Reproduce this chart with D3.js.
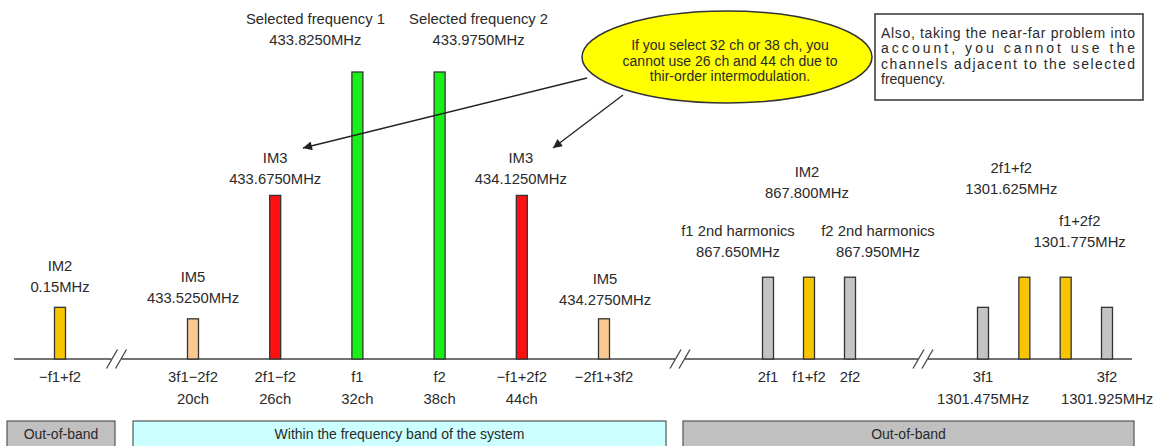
<!DOCTYPE html>
<html>
<head>
<meta charset="utf-8">
<script src="https://cdn.jsdelivr.net/npm/d3@7"></script>
<style>
  html, body { margin: 0; padding: 0; background: #fff; }
  svg { display: block; }
  text { font-family: "Liberation Sans", Arial, sans-serif; fill: #2a2a2a; }
</style>
</head>
<body>
<svg id="chart" width="1157" height="446"></svg>
<script>
// ---------------- DATA ----------------
const categories = ["−f1+f2", "3f1−2f2", "2f1−f2", "f1", "f2", "−f1+2f2", "−2f1+3f2",
                    "2f1", "f1+f2", "2f2", "3f1", "2f1+f2", "f1+2f2", "3f2"];
const groups     = [0, 1, 1, 1, 1, 1, 1, 2, 2, 2, 3, 3, 3, 3];
const levels     = [18, 14, 57, 100, 100, 57, 14, 28.5, 28.5, 28.5, 18, 28.5, 28.5, 18];
const kinds      = ["im2", "im5", "im3", "carrier", "carrier", "im3", "im5",
                    "harm", "im2", "harm", "harm", "im2", "im2", "harm"];
const topLine1   = ["IM2", "IM5", "IM3", "Selected frequency 1", "Selected frequency 2", "IM3", "IM5",
                    "f1 2nd harmonics", "IM2", "f2 2nd harmonics", "", "2f1+f2", "f1+2f2", ""];
const topLine2   = ["0.15MHz", "433.5250MHz", "433.6750MHz", "433.8250MHz", "433.9750MHz", "434.1250MHz", "434.2750MHz",
                    "867.650MHz", "867.800MHz", "867.950MHz", "", "1301.625MHz", "1301.775MHz", ""];
const bottomLine1 = ["−f1+f2", "3f1−2f2", "2f1−f2", "f1", "f2", "−f1+2f2", "−2f1+3f2",
                     "2f1", "f1+f2", "2f2", "3f1", "", "", "3f2"];
const bottomLine2 = ["", "20ch", "26ch", "32ch", "38ch", "44ch", "",
                     "", "", "", "1301.475MHz", "", "", "1301.925MHz"];
const bandLabels = ["Out-of-band", "Within the frequency band of the system", "Out-of-band"];
const calloutLines = ["If you select 32 ch or 38 ch, you",
                      "cannot use 26 ch and 44 ch due to",
                      "thir-order intermodulation."];
const noteLines = ["Also, taking the near-far problem into",
                   "account, you cannot use the",
                   "channels adjacent to the selected",
                   "frequency."];

// ---------------- LAYOUT / STYLE ----------------
const colors = { im2: "#f7c600", im5: "#fbc892", im3: "#ff1010", carrier: "#18f018", harm: "#c4c4c4" };
const groupRanges = [[60, 60], [193, 604], [768, 850], [983, 1107]];
const breaksX = [116.5, 680, 923];
const baseY = 359;
const barW = 11;
// label placement: [dx from bar centre, centre y of first line]
const labelPos = [[0, 266], [0, 277], [0, 158], [-42, 19], [39, 19], [-1, 158], [1, 279],
                  [-30, 231], [-2, 172], [28, 231], [0, 0], [-13, 168], [14, 221], [0, 0]];
const bands = [[7, 115, "#c0c0c0"], [133, 666, "#ccffff"], [683, 1134, "#c0c0c0"]];
const labelFont = "14.8px";

const svg = d3.select("#chart");

const data = categories.map((c, i) => ({
  cat: c, group: groups[i], level: levels[i], kind: kinds[i],
  t1: topLine1[i], t2: topLine2[i], b1: bottomLine1[i], b2: bottomLine2[i], i
}));

// x scales per segment
const xScales = groupRanges.map((r, g) =>
  d3.scalePoint().domain(data.filter(d => d.group === g).map(d => d.cat)).range(r).padding(0));
const x = d => xScales[d.group](d.cat);

const y = d3.scaleLinear().domain([0, 100]).range([baseY, 72]);

// bottom band boxes
svg.selectAll("rect.band").data(bands).join("rect")
  .attr("class", "band")
  .attr("x", d => d[0]).attr("y", 421)
  .attr("width", d => d[1] - d[0]).attr("height", 40)
  .attr("fill", d => d[2]).attr("stroke", "#555").attr("stroke-width", 1.2);
svg.selectAll("text.band").data(bands).join("text")
  .attr("class", "band")
  .attr("x", d => (d[0] + d[1]) / 2).attr("y", 434)
  .attr("text-anchor", "middle").attr("dominant-baseline", "central")
  .style("font-size", "14px")
  .text((d, i) => bandLabels[i]);

// baseline
svg.append("line").attr("x1", 14).attr("x2", 1132).attr("y1", baseY).attr("y2", baseY)
  .attr("stroke", "#444").attr("stroke-width", 1.5);

// break marks
breaksX.forEach(bx => {
  svg.append("rect").attr("x", bx - 5).attr("y", baseY - 2).attr("width", 10).attr("height", 4).attr("fill", "#fff");
  [-4.5, 4.5].forEach(off => {
    svg.append("line")
      .attr("x1", bx + off - 5.5).attr("y1", baseY + 9.5)
      .attr("x2", bx + off + 5.5).attr("y2", baseY - 9.5)
      .attr("stroke", "#444").attr("stroke-width", 1.3);
  });
});

// bars
svg.selectAll("rect.bar").data(data).join("rect")
  .attr("class", "bar")
  .attr("x", d => x(d) - barW / 2)
  .attr("y", d => y(d.level))
  .attr("width", barW)
  .attr("height", d => y(0) - y(d.level))
  .attr("fill", d => colors[d.kind])
  .attr("stroke", "#333").attr("stroke-width", 1.3);

// top labels
const tl = svg.selectAll("g.toplabel").data(data.filter(d => d.t1)).join("g").attr("class", "toplabel");
tl.append("text")
  .attr("x", d => x(d) + labelPos[d.i][0]).attr("y", d => labelPos[d.i][1])
  .attr("text-anchor", "middle").attr("dominant-baseline", "central")
  .style("font-size", labelFont).text(d => d.t1);
tl.append("text")
  .attr("x", d => x(d) + labelPos[d.i][0]).attr("y", d => labelPos[d.i][1] + 21)
  .attr("text-anchor", "middle").attr("dominant-baseline", "central")
  .style("font-size", labelFont).text(d => d.t2);

// bottom labels
svg.selectAll("text.cat").data(data.filter(d => d.b1)).join("text")
  .attr("class", "cat")
  .attr("x", d => x(d)).attr("y", 377)
  .attr("text-anchor", "middle").attr("dominant-baseline", "central")
  .style("font-size", labelFont).text(d => d.b1);
svg.selectAll("text.ch").data(data.filter(d => d.b2)).join("text")
  .attr("class", "ch")
  .attr("x", d => x(d)).attr("y", 399)
  .attr("text-anchor", "middle").attr("dominant-baseline", "central")
  .style("font-size", labelFont).text(d => d.b2);

// arrows
const defs = svg.append("defs");
defs.append("marker").attr("id", "ah").attr("viewBox", "0 0 10 10")
  .attr("refX", 10).attr("refY", 5).attr("markerWidth", 14).attr("markerHeight", 9)
  .attr("markerUnits", "userSpaceOnUse").attr("orient", "auto")
  .append("path").attr("d", "M0,0 L10,5 L0,10 Z").attr("fill", "#222");
[[587, 78, 303, 148], [623, 95, 553, 148]].forEach(a => {
  svg.append("line").attr("x1", a[0]).attr("y1", a[1]).attr("x2", a[2]).attr("y2", a[3])
    .attr("stroke", "#222").attr("stroke-width", 1.3).attr("marker-end", "url(#ah)");
});

// callout ellipse
svg.append("ellipse").attr("cx", 727).attr("cy", 57).attr("rx", 145).attr("ry", 46)
  .attr("fill", "#ffff00").attr("stroke", "#333").attr("stroke-width", 1.5);
svg.selectAll("text.callout").data(calloutLines).join("text")
  .attr("class", "callout")
  .attr("x", 730).attr("y", (d, i) => 45 + i * 15.5)
  .attr("text-anchor", "middle").attr("dominant-baseline", "central")
  .style("font-size", "14px").text(d => d);

// note box
svg.append("rect").attr("x", 875).attr("y", 14).attr("width", 268).attr("height", 86)
  .attr("fill", "#fff").attr("stroke", "#333").attr("stroke-width", 1.5);
svg.selectAll("text.note").data(noteLines).join("text")
  .attr("class", "note")
  .attr("x", 881).attr("y", (d, i) => 33 + i * 15.3)
  .attr("dominant-baseline", "central")
  .style("font-size", "14px")
  .each(function (d, i) {
    const t = d3.select(this).text(d);
    if (i < noteLines.length - 1) t.attr("textLength", 254).attr("lengthAdjust", "spacing");
  });
</script>
</body>
</html>
